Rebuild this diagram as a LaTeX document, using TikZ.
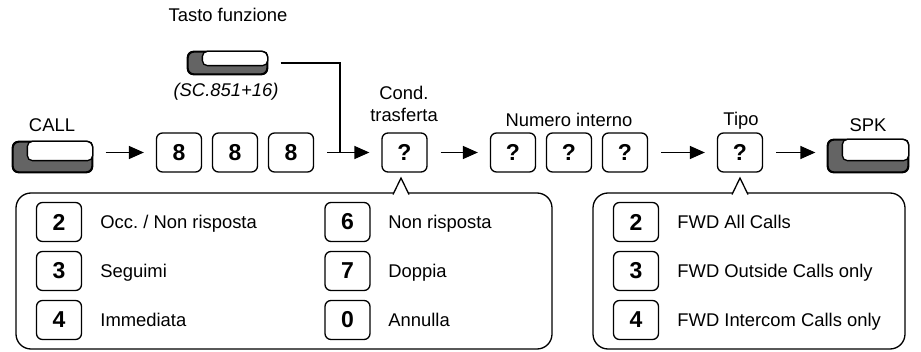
\documentclass[tikz,border=0pt]{standalone}
\usepackage{fontspec}
\setmainfont{Liberation Sans}
\usetikzlibrary{arrows.meta}

\definecolor{keygray}{RGB}{100,100,100}

\tikzstyle{n1} = [draw, rounded corners=3pt, line width=0.65pt, minimum width=22.5pt, minimum height=19.5pt, inner sep=0pt, font=\fontsize{11.5}{13}\selectfont\bfseries]
\tikzstyle{k1} = [draw, fill=keygray, rounded corners=3pt, line width=0.65pt, inner sep=0pt]
\tikzstyle{t1} = [anchor=base, inner sep=0pt, font=\fontsize{9.2}{11}\selectfont]
\tikzstyle{t2} = [anchor=base, inner sep=0pt, font=\fontsize{9.2}{11}\selectfont\itshape]
\tikzstyle{a1} = [-{Triangle[length=7.5pt,width=6.5pt]}, line width=0.7pt, shorten <=6.5pt, shorten >=6pt]
\tikzstyle{c1} = [draw, line width=0.65pt, rounded corners=7.5pt]

% white top of a key
\newcommand{\keytop}[2]{
  \draw[fill=white, line width=0.65pt, rounded corners=2.5pt]
    ([xshift=7.5pt]#1.north west) rectangle ([yshift=#2]#1.south east);
  \draw[line width=0.65pt, rounded corners=3pt]
    (#1.north west) rectangle (#1.south east);
}

\frenchspacing

\begin{document}
\begin{tikzpicture}[x=0.5pt, y=-0.5pt]
    \useasboundingbox (0,0) rectangle (921,352);

    % function key
    \node[t1] (ltasto) at (228,22) {Tasto funzione};
    \node[k1, minimum width=39.5pt, minimum height=11pt] (fkey) at (227.5,63) {};
    \keytop{fkey}{4.5pt}
    \node[t2] (lsc) at (226,97) {(SC.851+16)};

    % top row
    \node[t1] (lcall) at (52,132) {CALL};
    \node[k1, minimum width=39.5pt, minimum height=15pt] (call) at (52.5,157) {};
    \keytop{call}{6pt}

    \node[n1] (k81) at (179,152.5) {8};
    \node[n1] (k82) at (235,152.5) {8};
    \node[n1] (k83) at (291,152.5) {8};

    \node[t1] (lcond1) at (404,100) {Cond.};
    \node[t1] (lcond2) at (404,122) {trasferta};
    \node[n1] (q1) at (404.5,152.5) {?};

    \node[t1] (lnum) at (569,127) {Numero interno};
    \node[n1] (q2) at (513,152.5) {?};
    \node[n1] (q3) at (569,152.5) {?};
    \node[n1] (q4) at (625,152.5) {?};

    \node[t1] (ltipo) at (741,126) {Tipo};
    \node[n1] (q5) at (740,152.5) {?};

    \node[t1] (lspk) at (868,132) {SPK};
    \node[k1, minimum width=40pt, minimum height=16pt] (spk) at (868,156) {};
    \keytop{spk}{6pt}

    \coordinate (j) at (340,152.5);

    \draw[a1] (call.east |- k81) -- (k81);
    \draw[a1] (k83) -- (q1);
    \draw[line width=0.7pt] ([xshift=6.5pt]fkey.east) -| (j);
    \draw[a1] (q1) -- (q2);
    \draw[a1] (q4) -- (q5);
    \draw[a1] (q5) -- (spk.west |- q5);

    % callout of Cond. trasferta
    \draw[c1, fill=white] (16,193) rectangle (552,349);
    \draw[line width=0.65pt, fill=white] (393,194.5) -- (401,178) -- (409,194.5);

    \node[n1] (o2) at (59,222) {2};
    \node[t1, anchor=base west] (to2) at (100,228.5) {Occ. / Non risposta};
    \node[n1] (o3) at (59,271) {3};
    \node[t1, anchor=base west] (to3) at (100,277.5) {Seguimi};
    \node[n1] (o4) at (59,320) {4};
    \node[t1, anchor=base west] (to4) at (100,326.5) {Immediata};
    \node[n1] (o6) at (347.5,222) {6};
    \node[t1, anchor=base west] (to6) at (388,228.5) {Non risposta};
    \node[n1] (o7) at (347.5,271) {7};
    \node[t1, anchor=base west] (to7) at (388,277.5) {Doppia};
    \node[n1] (o0) at (347.5,320) {0};
    \node[t1, anchor=base west] (to0) at (388,326.5) {Annulla};

    % callout of Tipo
    \draw[c1, fill=white] (593,193) rectangle (905,349);
    \draw[line width=0.65pt, fill=white] (732,194.5) -- (740,178) -- (748,194.5);

    \node[n1] (f2) at (636,222) {2};
    \node[t1, anchor=base west] (tf2) at (677,228.5) {FWD All Calls};
    \node[n1] (f3) at (636,271) {3};
    \node[t1, anchor=base west] (tf3) at (677,277.5) {FWD Outside Calls only};
    \node[n1] (f4) at (636,320) {4};
    \node[t1, anchor=base west] (tf4) at (677,326.5) {FWD Intercom Calls only};
\end{tikzpicture}
\end{document}
